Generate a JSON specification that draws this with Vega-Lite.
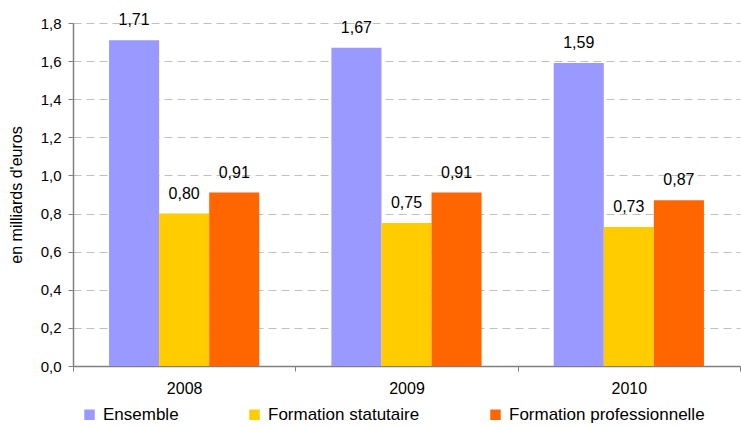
{
  "$schema": "https://vega.github.io/schema/vega-lite/v6.json",
  "width": 667,
  "height": 343,
  "autosize": "none",
  "padding": {"left": 73, "top": 23, "right": 1, "bottom": 62},
  "background": "white",
  "config": {
    "locale": {"number": {"decimal": ",", "thousands": " ", "grouping": [3], "currency": ["", ""]}},
    "font": "Liberation Sans",
    "view": {"stroke": null},
    "axis": {"domainColor": "#808080", "tickColor": "#808080", "labelColor": "#000000", "titleColor": "#000000", "labelFont": "Liberation Sans", "titleFont": "Liberation Sans"},
    "legend": {"labelFont": "Liberation Sans", "labelColor": "#000000"}
  },
  "data": {
    "values": [
      {"annee": "2008", "serie": "Ensemble", "valeur": 1.71},
      {"annee": "2008", "serie": "Formation statutaire", "valeur": 0.80},
      {"annee": "2008", "serie": "Formation professionnelle", "valeur": 0.91},
      {"annee": "2009", "serie": "Ensemble", "valeur": 1.67},
      {"annee": "2009", "serie": "Formation statutaire", "valeur": 0.75},
      {"annee": "2009", "serie": "Formation professionnelle", "valeur": 0.91},
      {"annee": "2010", "serie": "Ensemble", "valeur": 1.59},
      {"annee": "2010", "serie": "Formation statutaire", "valeur": 0.73},
      {"annee": "2010", "serie": "Formation professionnelle", "valeur": 0.87}
    ]
  },
  "encoding": {
    "x": {
      "field": "annee", "type": "nominal",
      "scale": {"paddingInner": 0, "paddingOuter": 0},
      "axis": {"title": null, "labelAngle": 0, "labelFontSize": 16, "tickBand": "extent", "tickSize": 5, "labelPadding": 9, "grid": false, "domainWidth": 1.5}
    },
    "xOffset": {
      "field": "serie", "type": "nominal",
      "sort": ["Ensemble", "Formation statutaire", "Formation professionnelle"],
      "scale": {"paddingInner": 0, "paddingOuter": 0.72}
    },
    "y": {
      "field": "valeur", "type": "quantitative",
      "scale": {"domain": [0, 1.8], "nice": false},
      "axis": {
        "title": "en milliards d'euros", "titleFontSize": 16, "titleFontWeight": "normal", "titlePadding": 16,
        "values": [0, 0.2, 0.4, 0.6, 0.8, 1.0, 1.2, 1.4, 1.6, 1.8], "format": ".1f",
        "labelFontSize": 15, "tickSize": 5, "labelPadding": 7,
        "grid": true, "gridColor": "#c0c0c0", "gridDash": [8, 5], "domainWidth": 1.5
      }
    }
  },
  "layer": [
    {
      "mark": {"type": "bar"},
      "encoding": {
        "color": {
          "field": "serie", "type": "nominal",
          "scale": {"domain": ["Ensemble", "Formation statutaire", "Formation professionnelle"], "range": ["#9999FF", "#FFCC00", "#FF6600"]},
          "legend": {
            "title": null, "orient": "none", "direction": "horizontal", "legendX": 8, "legendY": 383,
            "symbolType": "square", "symbolSize": 110, "symbolStrokeWidth": 0, "labelFontSize": 17,
            "labelOffset": 5, "columnPadding": 67, "labelLimit": 400
          }
        }
      }
    },
    {
      "mark": {"type": "text", "baseline": "alphabetic", "dy": -15, "fontSize": 16, "color": "#000000"},
      "encoding": {"text": {"field": "valeur", "type": "quantitative", "format": ".2f"}}
    }
  ]
}
